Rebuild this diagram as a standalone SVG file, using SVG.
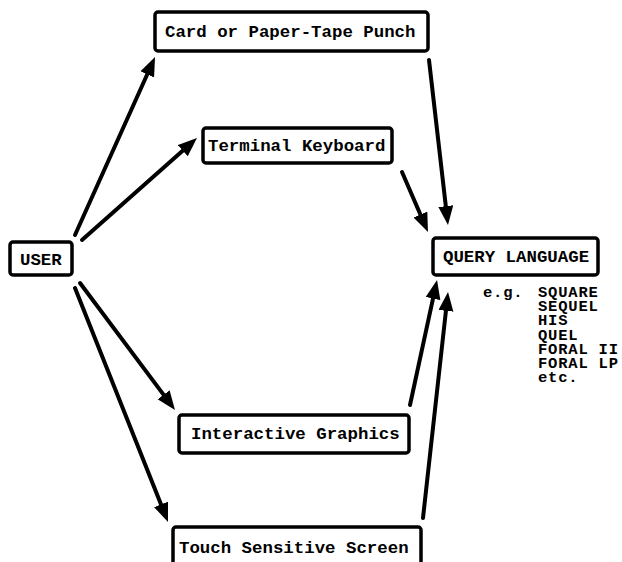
<svg xmlns="http://www.w3.org/2000/svg" width="622" height="562" viewBox="0 0 622 562">
  <style>
    .box { fill: #fff; stroke: #000; stroke-width: 3.5; }
    .lbl { font-family: "Liberation Mono", "Courier New", monospace; font-weight: bold; font-size: 17.4px; fill: #000; }
    .item { font-family: "Liberation Mono", "Courier New", monospace; font-weight: bold; font-size: 15.5px; letter-spacing: 0.8px; fill: #000; }
    .edge { stroke: #000; stroke-width: 4; stroke-linecap: round; fill: none; marker-end: url(#head); }
  </style>
  <defs>
    <marker id="head" markerUnits="userSpaceOnUse" markerWidth="20" markerHeight="16" refX="7" refY="7.5" orient="auto">
      <path d="M0,0 L19,7.5 L0,15 z" fill="#000"/>
    </marker>
  </defs>
  <rect width="622" height="562" fill="#fff"/>

  <g id="connectors">
    <line class="edge" x1="75" y1="235" x2="150.1" y2="68.0"/>
    <line class="edge" x1="82" y1="240" x2="188.0" y2="146.0"/>
    <line class="edge" x1="80" y1="283" x2="167.8" y2="400.4"/>
    <line class="edge" x1="75" y1="288" x2="163.6" y2="510.9"/>
    <line class="edge" x1="429" y1="60" x2="446.6" y2="213.1"/>
    <line class="edge" x1="402" y1="172" x2="423.2" y2="221.0"/>
    <line class="edge" x1="410" y1="405" x2="434.5" y2="291.7"/>
    <line class="edge" x1="423" y1="518" x2="446.7" y2="303.9"/>
  </g>

  <g id="user">
    <rect class="box" x="10" y="242" width="62" height="33" rx="3"/>
    <text class="lbl" x="20" y="265">USER</text>
  </g>

  <g id="card-punch">
    <rect class="box" x="155" y="12" width="273" height="39" rx="3"/>
    <text class="lbl" x="165" y="37">Card or Paper-Tape Punch</text>
  </g>

  <g id="terminal-keyboard">
    <rect class="box" x="203" y="128" width="189" height="35" rx="3"/>
    <text class="lbl" x="208" y="151">Terminal Keyboard</text>
  </g>

  <g id="interactive-graphics">
    <rect class="box" x="179" y="415" width="230" height="38" rx="3"/>
    <text class="lbl" x="191" y="439">Interactive Graphics</text>
  </g>

  <g id="touch-screen">
    <rect class="box" x="173" y="527" width="248" height="50" rx="3"/>
    <text class="lbl" x="179" y="553">Touch Sensitive Screen</text>
  </g>

  <g id="query-language">
    <rect class="box" x="433" y="238" width="165" height="37" rx="3"/>
    <text class="lbl" x="443" y="262">QUERY LANGUAGE</text>
    <text class="item" x="483" y="297">e.g.</text>
    <text class="item" x="538" y="297">SQUARE</text>
    <text class="item" x="538" y="311.2">SEQUEL</text>
    <text class="item" x="538" y="325.4">HIS</text>
    <text class="item" x="538" y="339.6">QUEL</text>
    <text class="item" x="538" y="353.8">FORAL II</text>
    <text class="item" x="538" y="368">FORAL LP</text>
    <text class="item" x="538" y="382.2">etc.</text>
  </g>
</svg>
